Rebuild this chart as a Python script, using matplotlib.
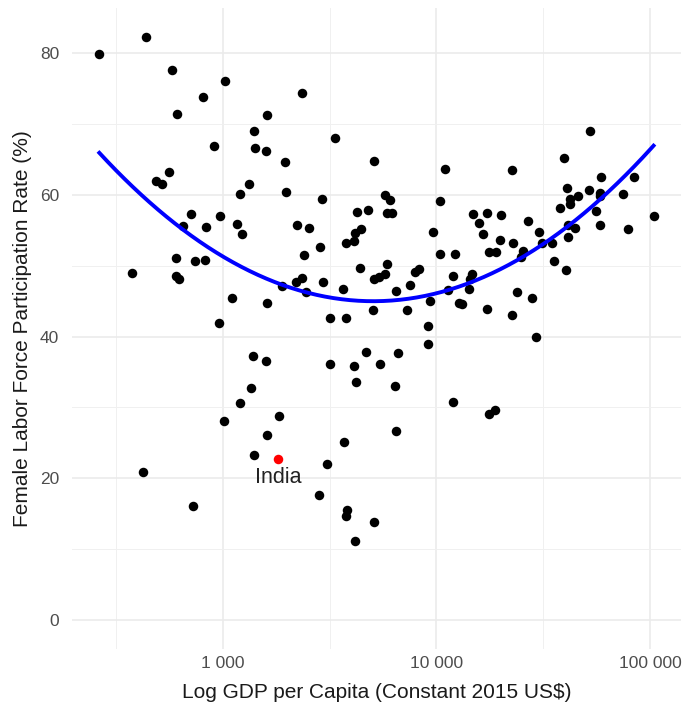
import numpy as np
import matplotlib
matplotlib.use("Agg")
import matplotlib.pyplot as plt
from matplotlib.ticker import FixedLocator, FuncFormatter

plt.rcParams['font.family'] = ['Liberation Sans', 'DejaVu Sans']

# log10 GDP per capita (constant 2015 US$) and female LFP rate (%)
low_gdp = [2.423, 2.640, 2.763, 3.012, 2.909, 2.786, 3.209, 3.148, 2.961, 3.151,
           3.201, 2.750, 2.688, 2.716, 3.122, 3.082, 2.853, 2.987, 2.816, 2.920,
           3.067, 3.092, 2.783, 2.870, 2.916, 2.576, 2.781, 2.794, 3.042, 3.209,
           2.984, 3.143, 3.203, 3.131, 3.080, 3.006, 3.262, 3.207, 3.148, 2.628,
           2.861]
low_flfp = [79.9, 82.3, 77.6, 76.1, 73.9, 71.5, 71.3, 69.1, 66.9, 66.7,
            66.2, 63.2, 62.0, 61.5, 61.5, 60.2, 57.3, 57.1, 55.6, 55.5,
            55.9, 54.5, 51.1, 50.7, 50.8, 49.0, 48.5, 48.2, 45.4, 44.8,
            41.9, 37.3, 36.6, 32.7, 30.7, 28.1, 28.8, 26.1, 23.3, 20.9,
            16.1]

mid_gdp = [3.370, 3.526, 3.290, 3.707, 4.040, 3.298, 3.465, 3.760, 3.783, 4.015,
           3.629, 3.678, 3.767, 3.793, 3.349, 3.404, 3.649, 3.619, 3.577, 3.613,
           3.986, 3.457, 3.379, 4.015, 4.088, 3.767, 3.644, 3.900, 3.917, 4.079,
           3.760, 3.733, 3.706, 3.371, 3.342, 3.279, 3.468, 3.390, 3.564, 3.877,
           3.813, 4.056, 3.970, 4.106, 3.705, 3.861, 3.503, 3.577, 3.962, 3.961,
           3.502, 3.671, 3.616, 3.737, 3.820, 3.625, 3.806, 4.079, 3.569, 3.811,
           3.489, 3.449, 3.583, 3.579, 3.709, 3.621]
mid_flfp = [74.4, 68.0, 64.7, 64.8, 63.7, 60.5, 59.4, 60.0, 59.3, 59.2,
            57.6, 57.9, 57.5, 57.4, 55.8, 55.4, 55.2, 54.7, 53.2, 53.5,
            54.8, 52.7, 51.6, 51.7, 51.7, 50.3, 49.7, 49.2, 49.6, 48.5,
            48.8, 48.4, 48.1, 48.3, 47.7, 47.2, 47.7, 46.3, 46.8, 47.3,
            46.5, 46.6, 45.0, 44.7, 43.8, 43.7, 42.6, 42.7, 41.5, 38.9,
            36.2, 37.8, 35.8, 36.1, 37.7, 33.6, 33.0, 30.8, 25.1, 26.7,
            22.0, 17.6, 15.5, 14.7, 13.8, 11.1]

high_gdp = [4.719, 4.597, 4.354, 4.769, 4.924, 4.613, 4.713, 4.664, 4.766, 4.767,
            4.874, 4.625, 4.623, 4.579, 4.745, 5.016, 4.171, 4.236, 4.302, 4.199,
            4.427, 4.216, 4.296, 4.481, 4.615, 4.647, 4.614, 4.766, 4.896, 4.359,
            4.495, 4.539, 4.244, 4.279, 4.407, 4.396, 4.552, 4.606, 4.168, 4.157,
            4.154, 4.379, 4.447, 4.121, 4.239, 4.352, 4.468, 4.248, 4.274]
high_flfp = [69.0, 65.2, 63.6, 62.5, 62.5, 61.0, 60.7, 59.9, 60.3, 59.8,
             60.2, 59.4, 58.7, 58.2, 57.8, 57.1, 57.3, 57.4, 57.2, 56.1,
             56.4, 54.5, 53.7, 54.8, 55.7, 55.3, 54.1, 55.7, 55.2, 53.2,
             53.2, 53.2, 51.9, 51.9, 52.1, 51.2, 50.7, 49.4, 48.8, 48.1,
             46.8, 46.3, 45.5, 44.6, 43.9, 43.0, 39.9, 29.1, 29.6]

india_gdp = 3.258
india_flfp = 22.7

x_ticks = [3, 4, 5]
x_tick_labels = ["1 000", "10 000", "100 000"]
y_ticks = [0, 20, 40, 60, 80]

x = np.array(low_gdp + mid_gdp + high_gdp + [india_gdp])
y = np.array(low_flfp + mid_flfp + high_flfp + [india_flfp])

# quadratic fit in log GDP
coef = np.polyfit(x, y, 2)
xs = np.linspace(x.min(), x.max(), 200)
ys = np.polyval(coef, xs)

fig = plt.figure(figsize=(6.86, 7.09), dpi=100)
ax = fig.add_axes([0.1044, 0.0846, 0.8887, 0.9041])

ax.scatter(x[:-1], y[:-1], s=47, color="black", linewidths=0, zorder=3)
ax.plot(xs, ys, color="#0000FF", linewidth=2.8, zorder=4)
ax.scatter([india_gdp], [india_flfp], s=47, color="#FF0000", linewidths=0, zorder=5)
ax.annotate("India", (india_gdp, india_flfp), xytext=(0, -6), textcoords="offset points",
            ha="center", va="top", fontsize=15.5, color="#222222", zorder=6)

# ggplot-style 5% expansion, y expanded to include 0
xr = x.max() - x.min()
ax.set_xlim(x.min() - 0.05 * xr, x.max() + 0.05 * xr)
yr = y.max() - 0
ax.set_ylim(0 - 0.05 * yr, y.max() + 0.05 * yr)

ax.xaxis.set_major_locator(FixedLocator(x_ticks))
ax.xaxis.set_major_formatter(FuncFormatter(lambda v, p: x_tick_labels[x_ticks.index(int(round(v)))]))
ax.xaxis.set_minor_locator(FixedLocator([2.5, 3.5, 4.5]))
ax.yaxis.set_major_locator(FixedLocator(y_ticks))
ax.yaxis.set_minor_locator(FixedLocator([10, 30, 50, 70]))

ax.grid(which="major", color="#EBEBEB", linewidth=1.2)
ax.grid(which="minor", color="#F0F0F0", linewidth=0.7)
ax.set_axisbelow(True)
for s in ax.spines.values():
    s.set_visible(False)
ax.tick_params(which="both", length=0)
ax.tick_params(axis="x", labelsize=12.5, labelcolor="#4D4D4D", pad=5)
ax.tick_params(axis="y", labelsize=12.5, labelcolor="#4D4D4D", pad=9)

ax.set_xlabel(r"Log GDP per Capita (Constant 2015 US\$)", fontsize=15, color="#1A1A1A", labelpad=9)
ax.set_ylabel("Female Labor Force Participation Rate (%)", fontsize=15, color="#1A1A1A", labelpad=6)

fig.savefig("out.png", dpi=100)
